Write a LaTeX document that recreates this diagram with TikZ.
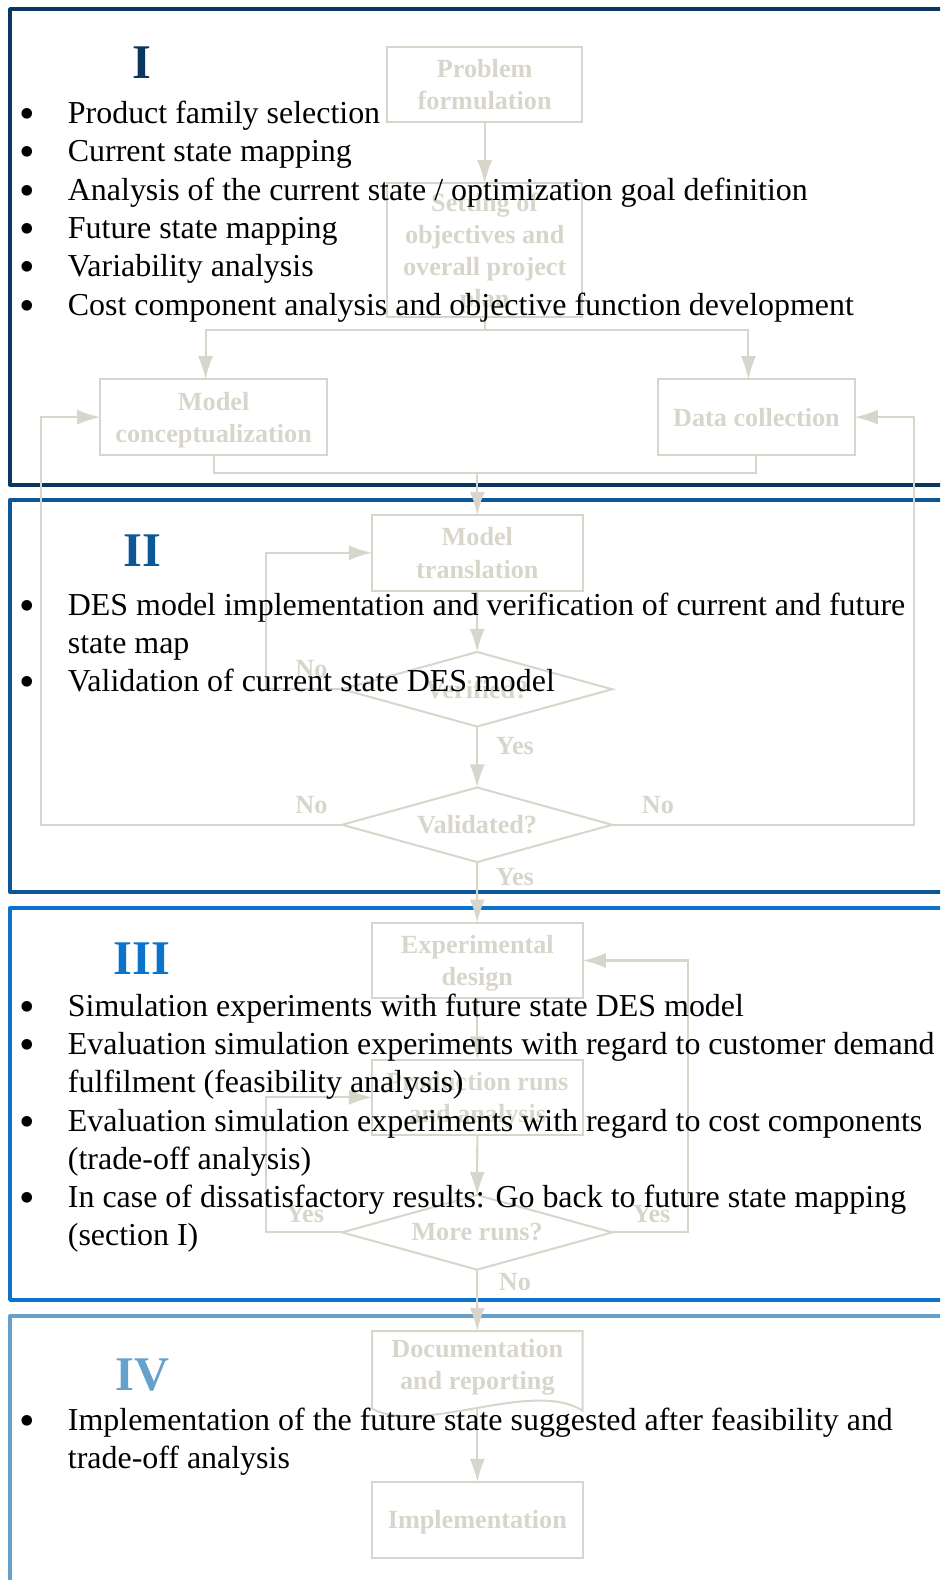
\documentclass[tikz,border=0pt]{standalone}
\usepackage{fontspec}
\setmainfont{Liberation Serif}
\usetikzlibrary{arrows.meta,shapes.geometric,calc}
\definecolor{fc}{HTML}{D8D6CA}
\definecolor{cI}{HTML}{0B3660}
\definecolor{cII}{HTML}{0D5797}
\definecolor{cIII}{HTML}{0B73CB}
\definecolor{cIV}{HTML}{66A1CB}
\newcommand{\itm}[1]{\parbox[t]{900pt}{\raggedright #1}}
\begin{document}
\begin{tikzpicture}[x=1pt,y=1pt,
  frame/.style={line width=4pt, line join=round},
  box/.style={draw=fc, line width=2pt, text=fc, font=\fontsize{26}{32}\selectfont\bfseries, align=center, inner sep=0pt, outer sep=0pt, minimum height=75pt, text depth=0pt},
  dia/.style={diamond, draw=fc, line width=2pt, text=fc, font=\fontsize{26}{32}\selectfont\bfseries, inner sep=0pt, outer sep=0pt, aspect=3.62, minimum width=268pt, minimum height=74pt},
  arr/.style={draw=fc, line width=2pt, -{Latex[length=23pt,width=15pt]}},
  ln/.style={draw=fc, line width=2pt},
  yn/.style={text=fc, font=\fontsize{26}{32}\selectfont\bfseries, inner sep=0pt},
  num/.style={font=\fontsize{48}{54}\selectfont\bfseries, inner sep=0pt, anchor=base},
  blt/.style={font=\fontsize{44}{50}\selectfont, inner sep=0pt, anchor=base, yshift=-5pt},
  itemtext/.style={font=\fontsize{31.7}{38}\selectfont, inner sep=0pt, anchor=base west},
]
\useasboundingbox (0,0) rectangle (933,-1568);
\clip (0,0) rectangle (933,-1568);

% section frames
\draw[frame, cI] (10,-9) rectangle (960,-481);
\draw[frame, cII] (10,-496) rectangle (960,-885);
\draw[frame, cIII] (10,-901) rectangle (960,-1290);
\draw[frame, cIV] (10,-1306) rectangle (960,-1600);

% flowchart nodes
\node[box, minimum width=194pt] (pf) at (481,-84) {Problem\\formulation};
\node[box, minimum width=194pt, minimum height=133pt] (set) at (481,-248.5) {Setting of\\objectives and\\overall project\\plan};
\node[box, minimum width=225pt] (mc) at (212,-414) {Model\\conceptualization};
\node[box, minimum width=195pt] (dc) at (750.7,-414) {Data collection};
\node[box, minimum width=209pt] (mt) at (473.7,-548.6) {Model\\translation};
\node[dia] (ver) at (473.5,-684) {Verified?};
\node[dia] (val) at (473.5,-818.5) {Validated?};
\node[box, minimum width=209pt] (ed) at (473.7,-953.2) {Experimental\\design};
\node[box, minimum width=209pt] (pr) at (473.7,-1089) {Production runs\\and analysis};
\node[dia] (mr) at (473.5,-1223) {More runs?};
\node[box, draw=none, minimum width=209pt, minimum height=66pt] (doc) at (473.7,-1354) {Documentation\\and reporting};
\node[box, minimum width=209pt] (impl) at (473.7,-1508.3) {Implementation};

% document shape outline
\draw[ln, line join=miter] ([yshift=-11pt]doc.south west) -- (doc.north west) -- (doc.north east) -- ([yshift=-13pt]doc.south east) .. controls +(-50,32) and +(51,-27) .. ([yshift=-11pt]doc.south west) -- cycle;

% connectors
\coordinate (sp) at (481,-327.5);
\coordinate (jn) at (473.7,-469);
\coordinate (docb) at (473.7,-1396);
\draw[arr] (pf) -- (set);
\draw[ln] (set.south) -- (sp);
\draw[arr] (sp) -| ([xshift=-8pt]mc.north);
\draw[arr] (sp) -| ([xshift=-8pt]dc.north);
\draw[ln] (mc.south) |- (jn) -| (dc.south);
\draw[arr] (jn) -- (mt.north);
\draw[arr] (mt) -- (ver);
\draw[arr] (ver) -- (val);
\draw[arr] (ver.west) -- ++(-76,0) |- (mt.west);
\draw[arr] (val.west) -- ++(-299,0) |- (mc.west);
\draw[arr] (val.east) -- ++(299.5,0) |- (dc.east);
\draw[arr] (val) -- (ed);
\draw[arr] (ed) -- (pr);
\draw[arr] (pr) -- (mr);
\draw[arr] (mr.west) -- ++(-76,0) |- (pr.west);
\draw[arr] (mr.east) -- ++(75,0) |- (ed.east);
\draw[arr] (mr.south) -- (doc.north);
\draw[arr] (docb) -- (impl.north);

% branch labels
\node[yn] (l1) at (309,-663.5) {No};
\node[yn] (l2) at (511,-740) {Yes};
\node[yn] (l3) at (309,-799) {No};
\node[yn] (l4) at (653,-799) {No};
\node[yn] (l5) at (511,-870) {Yes};
\node[yn] (l6) at (302.7,-1205) {Yes};
\node[yn] (l7) at (646.5,-1205) {Yes};
\node[yn] (l8) at (511,-1272) {No};

% section numerals
\node[num, text=cI] (nI) at (141,-78.4) {I};
\node[num, text=cII] (nII) at (141,-561.8) {II};
\node[num, text=cIII] (nIII) at (141,-967) {III};
\node[num, text=cIV] (nIV) at (141,-1379.6) {IV};

% section I bullets
\node[blt] (b11) at (26.8,-122.4) {•};
\node[itemtext] (t11) at (67.2,-122.4) {\itm{Product family selection}};
\node[blt] (b12) at (26.8,-160.5) {•};
\node[itemtext] (t12) at (67.2,-160.5) {\itm{Current state mapping}};
\node[blt] (b13) at (26.8,-198.5) {•};
\node[itemtext] (t13) at (67.2,-198.5) {\itm{Analysis of the current state / optimization goal definition}};
\node[blt] (b14) at (26.8,-236.6) {•};
\node[itemtext] (t14) at (67.2,-236.6) {\itm{Future state mapping}};
\node[blt] (b15) at (26.8,-274.6) {•};
\node[itemtext] (t15) at (67.2,-274.6) {\itm{Variability analysis}};
\node[blt] (b16) at (26.8,-312.7) {•};
\node[itemtext] (t16) at (67.2,-312.7) {\itm{Cost component analysis and objective function development}};

% section II bullets
\node[blt] (b21) at (26.8,-610.5) {•};
\node[itemtext] (t21) at (67.2,-610.5) {\itm{DES model implementation and verification of current and future\\state map}};
\node[blt] (b22) at (26.8,-686.5) {•};
\node[itemtext] (t22) at (67.2,-686.5) {\itm{Validation of current state DES model}};

% section III bullets
\node[blt] (b31) at (26.8,-1008.4) {•};
\node[itemtext] (t31) at (67.2,-1008.4) {\itm{Simulation experiments with future state DES model}};
\node[blt] (b32) at (26.8,-1046.4) {•};
\node[itemtext] (t32) at (67.2,-1046.4) {\itm{Evaluation simulation experiments with regard to customer demand\\fulfilment (feasibility analysis)}};
\node[blt] (b33) at (26.8,-1122.4) {•};
\node[itemtext] (t33) at (67.2,-1122.4) {\itm{Evaluation simulation experiments with regard to cost components\\(trade-off analysis)}};
\node[blt] (b34) at (26.8,-1198.4) {•};
\node[itemtext] (t34) at (67.2,-1198.4) {\itm{In case of dissatisfactory results: Go back to future state mapping\\(section I)}};

% section IV bullets
\node[blt] (b41) at (26.8,-1419.4) {•};
\node[itemtext] (t41) at (67.2,-1419.4) {\itm{Implementation of the future state suggested after feasibility and\\trade-off analysis}};
\end{tikzpicture}
\end{document}
